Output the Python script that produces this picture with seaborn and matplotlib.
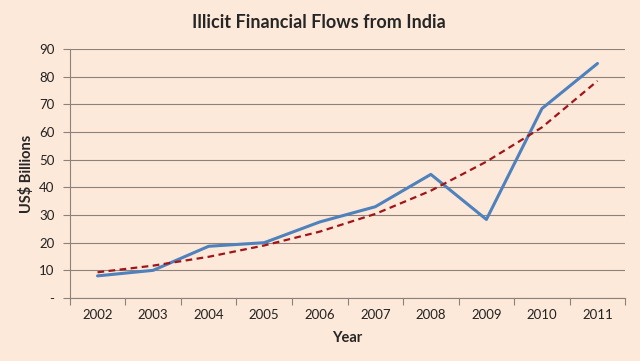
import pandas as pd
import matplotlib.pyplot as plt
import seaborn as sns
from matplotlib.ticker import FixedLocator, FixedFormatter

# Data
years = [2002, 2003, 2004, 2005, 2006, 2007, 2008, 2009, 2010, 2011]
flows = [8.0, 10.0, 18.7, 20.0, 27.5, 33.0, 44.7, 28.4, 68.5, 84.8]
trend = [9.3, 11.7, 14.9, 19.0, 24.0, 30.4, 38.8, 49.3, 61.7, 78.5]
y_ticks = [0, 10, 20, 30, 40, 50, 60, 70, 80, 90]
y_labels = ["-", "10", "20", "30", "40", "50", "60", "70", "80", "90"]

df = pd.DataFrame({"Year": years, "Flows": flows, "Trend": trend})

bg = "#FDE9D9"
sns.set_style("white")
plt.rcParams["font.family"] = ["Lato", "DejaVu Sans"]

fig = plt.figure(figsize=(6.4, 3.61), dpi=100, facecolor=bg)
ax = fig.add_axes([0.109, 0.1745, 0.868, 0.6895])
ax.set_facecolor(bg)

sns.lineplot(data=df, x="Year", y="Flows", color="#4F81BD", linewidth=2.2, ax=ax)
sns.lineplot(data=df, x="Year", y="Trend", color="#A0151A", linewidth=1.6,
             linestyle=(0, (3, 2)), ax=ax)

ax.set_xlim(2001.5, 2011.5)
ax.set_ylim(0, 90)

# y axis
ax.set_yticks(y_ticks)
ax.set_yticklabels(y_labels)
ax.yaxis.grid(True, color="#8C8279", linewidth=0.8)
ax.set_axisbelow(True)

# x axis: tick marks between categories, labels centred on categories
bounds = [y - 0.5 for y in years] + [years[-1] + 0.5]
ax.xaxis.set_major_locator(FixedLocator(bounds))
ax.xaxis.set_major_formatter(FixedFormatter([""] * len(bounds)))
ax.xaxis.set_minor_locator(FixedLocator(years))
ax.xaxis.set_minor_formatter(FixedFormatter([str(y) for y in years]))
ax.tick_params(axis="x", which="major", length=5, color="#8C8279", direction="out", bottom=True)
ax.tick_params(axis="x", which="minor", length=0, pad=8, labelsize=9.5, labelcolor="#222222")
ax.tick_params(axis="y", length=5, color="#8C8279", direction="out", left=True,
               labelsize=9.5, labelcolor="#222222", pad=6)

for side in ["top", "right"]:
    ax.spines[side].set_visible(False)
for side in ["left", "bottom"]:
    ax.spines[side].set_color("#8C8279")
    ax.spines[side].set_linewidth(0.8)

ax.set_xlabel("Year", fontsize=10.5, fontweight="bold", labelpad=7)
ax.set_ylabel("US$ Billions", fontsize=10.5, fontweight="bold", labelpad=4)
fig.text(0.498, 0.939, "Illicit Financial Flows from India", ha="center", va="center",
         fontsize=13, fontweight="bold")

plt.savefig("out.png", dpi=100, facecolor=bg)
